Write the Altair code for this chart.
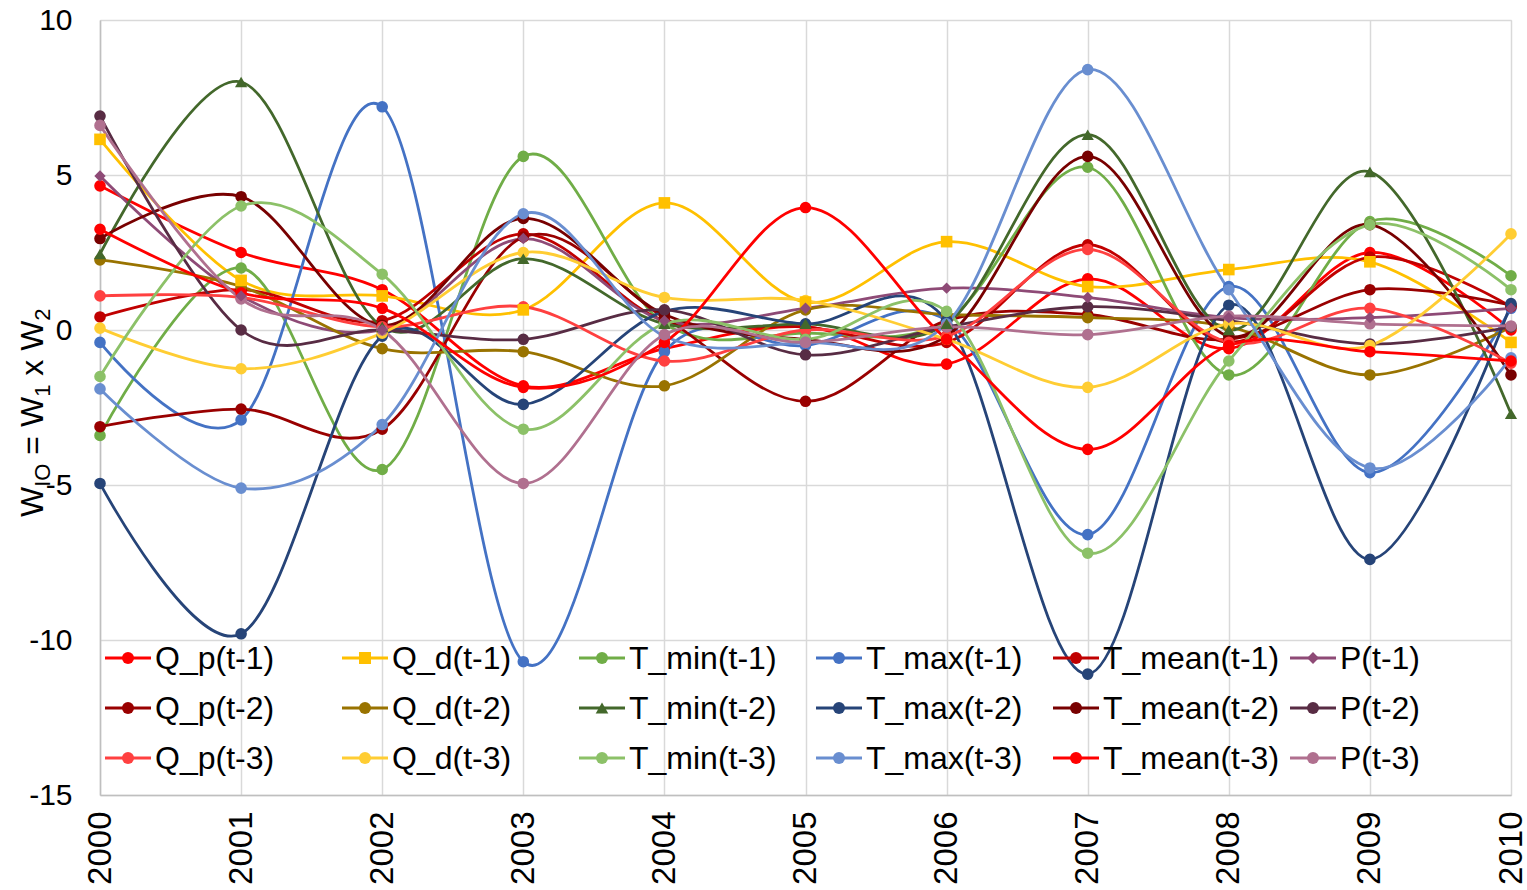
import altair as alt
import pandas as pd

years = list(range(2000, 2011))

series_names = [
    "Q_p(t-1)", "Q_d(t-1)", "T_min(t-1)", "T_max(t-1)", "T_mean(t-1)", "P(t-1)",
    "Q_p(t-2)", "Q_d(t-2)", "T_min(t-2)", "T_max(t-2)", "T_mean(t-2)", "P(t-2)",
    "Q_p(t-3)", "Q_d(t-3)", "T_min(t-3)", "T_max(t-3)", "T_mean(t-3)", "P(t-3)",
]
series_colors = [
    "#FF0000", "#FFC000", "#70AD47", "#4472C4", "#C00000", "#8E4A76",
    "#990000", "#997300", "#43682B", "#264478", "#780000", "#582C44",
    "#FF4040", "#FFCD33", "#8CC168", "#698ED0", "#FF0000", "#B0708F",
]
marker_shapes = {"Q_d(t-1)": "square", "T_min(t-2)": "triangle-up", "P(t-1)": "diamond"}

q_p_1 = [4.65, 2.5, 1.3, -1.8, -0.6, 0.1, -1.1, 1.65, -0.6, 2.5, 0.0]
q_d_1 = [6.15, 1.6, 1.1, 0.65, 4.1, 0.9, 2.85, 1.4, 1.95, 2.2, -0.4]
t_min_1 = [-3.4, 2.0, -4.5, 5.6, 0.2, -0.1, 0.3, 5.25, -1.45, 3.5, 1.75]
t_max_1 = [-0.4, -2.9, 7.2, -10.7, -0.7, -0.5, 0.3, -6.6, 1.4, -4.6, 0.7]
t_mean_1 = [0.42, 1.3, 0.3, 3.1, 0.3, 0.1, -0.4, 2.75, -0.4, 2.35, 0.75]
p_1 = [4.97, 1.1, 0.0, 2.95, 0.3, 0.7, 1.35, 1.05, 0.4, 0.4, 0.7]
q_p_2 = [-3.12, -2.55, -3.2, 3.0, 0.4, -2.3, 0.3, 0.5, -0.3, 1.3, 0.8]
q_d_2 = [2.26, 1.4, -0.6, -0.7, -1.8, 0.65, 0.5, 0.4, 0.1, -1.45, 0.1]
t_min_2 = [2.45, 8.0, 0.1, 2.3, 0.2, 0.2, 0.2, 6.3, 0.0, 5.1, -2.7]
t_max_2 = [-4.95, -9.8, -0.2, -2.4, 0.6, 0.2, 0.3, -11.1, 0.8, -7.4, 0.85]
t_mean_2 = [2.95, 4.3, 0.15, 3.6, 0.5, -0.3, -0.2, 5.6, -0.2, 3.4, -1.45]
p_2 = [6.9, 0.0, 0.0, -0.3, 0.65, -0.8, 0.1, 0.75, 0.3, -0.45, 0.1]
q_p_3 = [1.1, 1.05, 0.1, 0.75, -1.0, 0.0, -0.2, 2.6, -0.4, 0.7, -1.07]
q_d_3 = [0.06, -1.25, -0.1, 2.5, 1.05, 0.95, -0.3, -1.85, 0.2, -0.5, 3.1]
t_min_3 = [-1.5, 4.0, 1.8, -3.2, 0.2, -0.3, 0.6, -7.2, -1.0, 3.4, 1.3]
t_max_3 = [-1.9, -5.1, -3.05, 3.75, -0.2, -0.4, 0.2, 8.4, 1.3, -4.45, -0.9]
t_mean_3 = [3.25, 1.2, 0.7, -1.85, -0.4, 3.95, -0.3, -3.85, -0.5, -0.7, -1.0]
p_3 = [6.6, 1.0, 0.0, -4.95, -0.15, -0.4, 0.1, -0.15, 0.45, 0.2, 0.13]

series_values = [
    q_p_1, q_d_1, t_min_1, t_max_1, t_mean_1, p_1,
    q_p_2, q_d_2, t_min_2, t_max_2, t_mean_2, p_2,
    q_p_3, q_d_3, t_min_3, t_max_3, t_mean_3, p_3,
]

y_ticks = [-15, -10, -5, 0, 5, 10]

FONT = "Liberation Sans"

rows = []
for name, vals in zip(series_names, series_values):
    for yr, v in zip(years, vals):
        rows.append({"series": name, "year": yr, "value": v,
                     "marker": marker_shapes.get(name, "circle")})
df = pd.DataFrame(rows)

# legend entries: six per row, in series order
legend_df = pd.DataFrame({
    "series": series_names,
    "idx": list(range(len(series_names))),
    "marker": [marker_shapes.get(n, "circle") for n in series_names],
})

color_scale = alt.Scale(domain=series_names, range=series_colors)
MARKER_SIZES = {"circle": 135, "square": 135, "triangle-up": 150, "diamond": 130}
LINE_W = 2.8

x_enc = alt.X(
    "year:Q",
    scale=alt.Scale(domain=[2000, 2010], nice=False, zero=False),
    axis=alt.Axis(values=years, format="d", labelAngle=270, labelFontSize=33,
                  labelFont=FONT, labelColor="#000000", labelPadding=16,
                  ticks=False, grid=True, gridColor="#D9D9D9", gridWidth=1.5,
                  domainColor="#BFBFBF", domainWidth=1.5, title=None),
)
y_enc = alt.Y(
    "value:Q",
    scale=alt.Scale(domain=[-15, 10], nice=False, zero=False),
    axis=alt.Axis(values=y_ticks, labelExpr="'' + datum.value", labelFontSize=30,
                  labelFont=FONT, labelColor="#000000", labelPadding=28, ticks=False,
                  grid=True, gridColor="#D9D9D9", gridWidth=1.5,
                  domainColor="#BFBFBF", domainWidth=1.5, title=None),
)
series_color = alt.Color("series:N", scale=color_scale, legend=None)

base = alt.Chart(df)

lines = base.mark_line(interpolate="cardinal", strokeWidth=LINE_W).encode(
    x=x_enc, y=y_enc, color=series_color, detail="series:N", order="year:Q",
)

# markers, one layer per marker shape
marker_layers = []
for shp, sz in MARKER_SIZES.items():
    marker_layers.append(
        base.transform_filter(alt.datum.marker == shp).mark_point(
            filled=True, size=sz, opacity=1, shape=shp
        ).encode(x=x_enc, y=y_enc, color=series_color)
    )

# legend laid out as a 6-column grid in the lower part of the plot
LEG_X0, LEG_COL_W, LEG_Y0, LEG_ROW_H, LEG_SYM_W = 5, 237, 638, 50, 46
leg = alt.Chart(legend_df).transform_calculate(
    col="datum.idx % 6",
    row="floor(datum.idx / 6)",
).transform_calculate(
    lx0=f"{LEG_X0} + datum.col * {LEG_COL_W}",
    lx1=f"{LEG_X0 + LEG_SYM_W} + datum.col * {LEG_COL_W}",
    lxm=f"{LEG_X0 + LEG_SYM_W / 2} + datum.col * {LEG_COL_W}",
    ltx=f"{LEG_X0 + LEG_SYM_W + 4} + datum.col * {LEG_COL_W}",
    ly=f"{LEG_Y0} + datum.row * {LEG_ROW_H}",
)
px = lambda f: alt.X(f"{f}:Q", scale=None, axis=None)
py = alt.Y("ly:Q", scale=None, axis=None)

leg_lines = leg.mark_rule(strokeWidth=LINE_W).encode(
    x=px("lx0"), x2="lx1:Q", y=py, color=series_color,
)
leg_markers = []
for shp, sz in MARKER_SIZES.items():
    leg_markers.append(
        leg.transform_filter(alt.datum.marker == shp).mark_point(
            filled=True, size=sz + 10, opacity=1, shape=shp
        ).encode(x=px("lxm"), y=py, color=series_color)
    )
leg_text = leg.mark_text(
    align="left", baseline="middle", fontSize=32, font=FONT, color="#000000", dy=1,
).encode(x=px("ltx"), y=py, text="series:N")

# rotated y-axis title with subscripts, built from pieces laid end to end
char_w = {"W": 0.944, "I": 0.278, "O": 0.778, "=": 0.584,
          "1": 0.556, "2": 0.556, "x": 0.5}
SPACE = 0.278
title_pieces = [("W", False, 0), ("IO", True, 0), ("=", False, 1), ("W", False, 1),
                ("1", True, 0), ("x", False, 1), ("W", False, 1), ("2", True, 0)]
main_fs, sub_fs = 32, 22
base_x, sub_shift = -57, 7
cur_y = 497
title_layers = []
for txt, is_sub, gap in title_pieces:
    fs = sub_fs if is_sub else main_fs
    cur_y -= gap * SPACE * main_fs
    t = alt.Chart(pd.DataFrame({"t": [txt]})).mark_text(
        angle=270, align="left", baseline="alphabetic", fontSize=fs, font=FONT,
        color="#000000",
    ).encode(text="t:N", x=alt.value(base_x + (sub_shift if is_sub else 0)),
             y=alt.value(cur_y))
    title_layers.append(t)
    cur_y -= sum(char_w[c] for c in txt) * fs

chart = alt.layer(
    lines, *marker_layers, leg_lines, *leg_markers, leg_text, *title_layers
).properties(
    width=1411, height=775,
    autosize=alt.AutoSizeParams(type="none"),
    padding={"left": 100, "top": 20, "right": 16, "bottom": 95},
).configure_view(stroke=None).configure(background="#FFFFFF")

chart.save("out.html", embed_options={"renderer": "svg", "actions": False})
